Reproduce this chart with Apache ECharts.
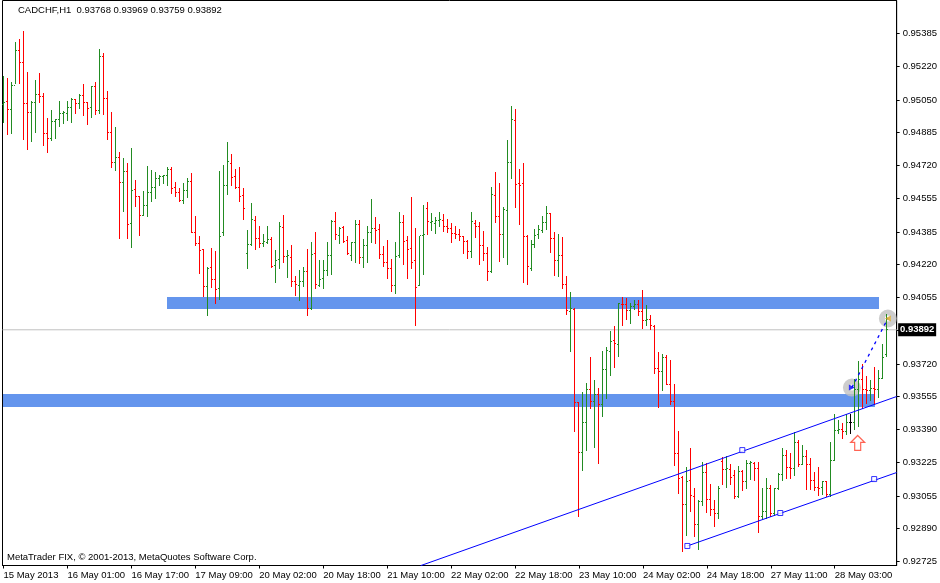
<!DOCTYPE html>
<html>
<head>
<meta charset="utf-8">
<style>html,body{margin:0;padding:0;background:#fff}#c{width:940px;height:583px}</style>
<script src="https://cdn.jsdelivr.net/npm/echarts@6/dist/echarts.min.js"></script>
</head>
<body>
<div id="c"></div>
<script>
// prices in points (1 point = 0.00001)
var opens = [95027,95042,95002,95123,95299,95239,95032,94987,95037,95078,95068,94881,94856,94941,94951,94982,94982,95012,95052,95032,95073,95037,95012,95118,94997,95269,95057,94886,94735,94760,94634,94690,94428,94599,94564,94468,94518,94584,94609,94654,94665,94670,94700,94609,94584,94543,94594,94639,94382,94327,94296,94110,94206,94145,94100,94382,94619,94730,94665,94609,94569,94276,94322,94443,94352,94327,94332,94347,94216,94246,94408,94261,94256,94135,94115,94135,94186,93999,94276,94115,94150,94191,94266,94438,94367,94408,94342,94266,94332,94423,94256,94317,94382,94403,94397,94271,94231,94201,94115,94266,94433,94342,94302,94241,94115,94367,94503,94433,94428,94443,94443,94413,94403,94377,94372,94362,94337,94286,94428,94413,94317,94276,94186,94569,94463,94372,94493,94735,94946,94629,94629,94362,94201,94322,94372,94392,94433,94478,94352,94241,94266,94120,93984,93994,93526,93274,93425,93591,93531,93566,93516,93692,93783,93838,93818,94020,94020,93989,94009,94020,93984,93939,93944,93909,93697,93682,93752,93617,93531,93269,93148,93012,93133,93053,92911,93027,93173,93037,92987,92967,93229,93188,93188,93158,93053,93178,93128,93219,93219,93193,92952,92977,93093,92967,93093,93163,93259,93198,93193,93324,93214,93254,93214,93133,93098,93098,93128,93063,93234,93385,93390,93380,93425,93425,93591,93642,93591,93586,93596,93591,93647,93768];
var highs = [95168,95158,95138,95339,95355,95395,95188,95042,95148,95183,95083,94956,94997,94951,95042,94992,95042,95057,95052,95078,95128,95037,95118,95138,95304,95284,95093,94987,94911,94785,94755,94730,94805,94644,94564,94589,94715,94695,94685,94670,94670,94710,94710,94634,94604,94629,94654,94680,94463,94362,94296,94206,94302,94286,94690,94720,94836,94775,94700,94710,94604,94392,94528,94463,94413,94372,94413,94357,94291,94433,94468,94291,94317,94160,94191,94206,94296,94332,94382,94241,94241,94332,94443,94483,94408,94413,94362,94332,94443,94443,94347,94413,94548,94458,94423,94312,94342,94246,94332,94483,94468,94362,94559,94403,94362,94518,94533,94478,94458,94483,94473,94448,94428,94413,94397,94362,94342,94483,94443,94433,94387,94307,94609,94685,94629,94508,94846,95017,95002,94700,94730,94367,94342,94397,94418,94463,94513,94478,94382,94372,94357,94160,94080,93999,93526,93576,93622,93752,93637,93596,93783,93803,93884,93909,94025,94055,94050,94025,94040,94040,94090,94015,93964,93914,93778,93768,93763,93737,93617,93380,93153,93198,93294,93093,93032,93224,93219,93113,93032,93103,93249,93254,93214,93183,93204,93183,93234,93229,93224,93224,93093,93143,93108,93093,93168,93294,93284,93269,93375,93334,93309,93284,93244,93173,93198,93128,93128,93324,93465,93435,93420,93465,93465,93642,93732,93717,93657,93637,93702,93687,93818,93969];
var lows = [94936,94876,94881,95133,95133,94851,94801,94841,94886,95037,94821,94785,94846,94856,94916,94931,94946,94936,94982,95007,94972,94926,94962,94977,94982,94977,94851,94710,94695,94352,94488,94352,94307,94513,94367,94468,94463,94538,94553,94619,94629,94619,94579,94564,94538,94528,94559,94382,94317,94176,94060,93964,94105,94025,94045,94367,94574,94619,94604,94538,94448,94201,94317,94296,94307,94312,94327,94206,94130,94201,94231,94155,94110,94065,94040,94110,93964,93994,94100,94110,94100,94166,94171,94347,94327,94332,94271,94241,94231,94226,94206,94231,94332,94327,94251,94211,94150,94085,94075,94256,94221,94150,94201,93914,94115,94171,94372,94392,94377,94413,94387,94382,94332,94352,94342,94276,94251,94256,94357,94221,94241,94140,94181,94433,94236,94256,94221,94654,94508,94423,94130,94120,94191,94307,94352,94382,94397,94281,94166,94160,94100,93969,93783,93380,92952,93183,93284,93496,93299,93219,93455,93546,93662,93702,93758,93914,93944,93924,93994,93964,93899,93914,93894,93672,93501,93586,93617,93516,93209,93068,92775,92856,92977,92851,92785,93007,92972,92957,92901,92941,93113,93098,93113,93042,93047,93083,93093,93138,93133,92871,92936,92941,92952,92957,93088,93133,93143,93143,93158,93204,93214,93088,93088,93083,93058,93063,93053,93053,93234,93370,93345,93365,93370,93390,93405,93496,93521,93536,93516,93551,93647,93759];
var closes = [95037,95002,95123,95299,95239,95032,94987,95037,95078,95068,94881,94856,94941,94951,94982,94985,95012,95052,95032,95073,95037,95007,95118,94997,95269,95057,94886,94735,94760,94634,94690,94423,94594,94564,94468,94518,94584,94609,94654,94665,94670,94700,94604,94584,94543,94594,94639,94382,94327,94291,94110,94201,94145,94095,94362,94619,94740,94660,94609,94564,94503,94322,94448,94352,94327,94337,94347,94211,94241,94413,94261,94264,94135,94120,94135,94186,93999,94271,94120,94145,94191,94266,94438,94372,94403,94337,94276,94332,94423,94256,94317,94382,94403,94392,94271,94231,94201,94115,94261,94433,94337,94296,94231,94105,94367,94372,94438,94438,94443,94446,94413,94403,94377,94372,94362,94337,94286,94438,94413,94317,94276,94186,94574,94463,94372,94498,94735,94951,94624,94619,94362,94211,94322,94367,94397,94433,94478,94352,94241,94266,94120,93989,93999,93526,93274,93425,93591,93531,93566,93516,93692,93788,93833,93823,94025,94017,93989,94009,94020,93984,93939,93944,93914,93697,93682,93752,93617,93531,93269,93143,93012,93128,93058,92911,93027,93173,93037,92987,92967,93093,93188,93191,93148,93053,93178,93128,93219,93222,93193,92952,92977,93093,92967,93093,93163,93259,93198,93193,93324,93214,93254,93214,93133,93098,93095,93128,93063,93234,93385,93390,93380,93425,93425,93591,93642,93591,93586,93596,93591,93647,93752,93892];

var tickBars = [0,16,32,48,64,80,96,112,128,144,160,176,192,208];
var tickLabels = ['15 May 2013','16 May 01:00','16 May 17:00','17 May 09:00','20 May 02:00','20 May 18:00','21 May 10:00','22 May 02:00','22 May 18:00','23 May 10:00','24 May 02:00','24 May 18:00','27 May 11:00','28 May 03:00'];
var priceTicks = [95385,95220,95050,94885,94720,94555,94385,94220,94055,93890,93720,93555,93390,93225,93055,92890,92725];
var priceLabelTicks = priceTicks.filter(function(v){return v!==93890;});
var lastPrice = 93892;

// zones: [bar from, bar to, price top, price bottom]
var zones = [[40.9,219.1,94057,93997],[-0.25,217.9,93569,93503]];
// trend lines: [bar, price]
var channelUpper = [[104.4,92704],[223.5,93556]];
var channelLower = [[171.125,92803],[223.5,93173]];
var anchors = [[171.125,92803],[184.875,93286],[194.375,92969],[217.875,93140]];
var tradeLine = [[212.3,93601],[221.3,93949]];
var entryMark = [[212.3,93601]];
var exitMark = [[221.3,93949]];
var arrowMark = [[213.75,93322]];

var GREEN='#228B22',RED='#FF0000',BLUE='#0000FF';
var barData = opens.map(function(o,i){return [i,o,highs[i],lows[i],closes[i]];});

function renderBar(params,api){
  var i=api.value(0),o=api.value(1),h=api.value(2),l=api.value(3),c=api.value(4);
  var x=Math.floor(api.coord([i,o])[0]);
  var yo=Math.floor(api.coord([i,o])[1]),yh=Math.floor(api.coord([i,h])[1]),
      yl=Math.floor(api.coord([i,l])[1]),yc=Math.floor(api.coord([i,c])[1]);
  var col=c>o?GREEN:(c<o?RED:'#000');
  var st={fill:col,stroke:null};
  return {type:'group',children:[
    {type:'rect',shape:{x:x,y:yh,width:1,height:Math.max(1,yl-yh+1)},style:st},
    {type:'rect',shape:{x:x-1,y:yo,width:1,height:1},style:st},
    {type:'rect',shape:{x:x+1,y:yc,width:1,height:1},style:st}
  ]};
}
function renderZone(params,api){
  var a=api.coord([api.value(0),api.value(2)]),b=api.coord([api.value(1),api.value(3)]);
  return {type:'rect',shape:{x:Math.round(a[0]),y:Math.round(a[1]),width:Math.round(b[0]-a[0]),height:Math.round(b[1]-a[1])},style:{fill:'#6495ED'}};
}
var FONT='"Liberation Sans",Arial,sans-serif';
var chart=echarts.init(document.getElementById('c'),null,{renderer:'canvas'});
chart.setOption({
  animation:false,
  backgroundColor:'#fff',
  title:[
    {text:'CADCHF,H1  0.93768 0.93969 0.93759 0.93892',left:18,top:5,padding:0,textStyle:{fontFamily:FONT,fontSize:9.5,fontWeight:'normal',color:'#000'}},
    {text:'MetaTrader FIX, © 2001-2013, MetaQuotes Software Corp.',left:7,top:552,padding:0,textStyle:{fontFamily:FONT,fontSize:9.5,fontWeight:'normal',color:'#000'}}
  ],
  grid:{left:2.5,right:42.5,top:0.5,bottom:17.5,show:true,borderColor:'#000',borderWidth:1,backgroundColor:'#fff'},
  xAxis:{type:'value',min:-0.25,max:223.5,splitLine:{show:false},
    axisLine:{show:true,onZero:false,lineStyle:{color:'#000'}},
    axisTick:{show:true,length:3,customValues:tickBars,lineStyle:{color:'#000'}},
    axisLabel:{show:true,customValues:tickBars,align:'left',margin:5,fontFamily:FONT,fontSize:9.5,color:'#000',
      formatter:function(v){return tickLabels[tickBars.indexOf(v)];}}},
  yAxis:{type:'value',position:'right',min:92704.6,max:95551,splitLine:{show:false},
    axisLine:{show:true,onZero:false,lineStyle:{color:'#000'}},
    axisTick:{show:true,length:3,customValues:priceTicks,lineStyle:{color:'#000'}},
    axisLabel:{show:true,customValues:priceLabelTicks,margin:6,fontFamily:FONT,fontSize:9.5,color:'#000',
      formatter:function(v){return (v/1e5).toFixed(5);}}},
  series:[
    {type:'custom',z:1,silent:true,renderItem:renderZone,data:zones,encode:{x:[0,1],y:[2,3]}},
    {type:'line',z:2,silent:true,symbol:'none',data:[[-0.25,lastPrice],[223.5,lastPrice]],lineStyle:{color:'#C0C0C0',width:1},
      markPoint:{silent:true,symbol:'rect',symbolSize:[38,13],
        itemStyle:{color:'#000'},
        label:{show:true,color:'#fff',fontFamily:FONT,fontSize:9.5,fontWeight:'bold',formatter:function(){return (lastPrice/1e5).toFixed(5);}},
        data:[{coord:[223.5,lastPrice],symbolOffset:[20.5,0]}]}},
    {type:'scatter',z:3,silent:true,symbol:'circle',symbolSize:12,
      itemStyle:{color:'#fff',borderColor:'#C0C0C0',borderWidth:6},data:entryMark.concat(exitMark)},
    {type:'custom',z:4,silent:true,renderItem:renderBar,data:barData,encode:{x:0,y:[1,2,3,4]}},
    {type:'line',z:5,silent:true,symbol:'none',data:channelUpper,lineStyle:{color:BLUE,width:1}},
    {type:'line',z:5,silent:true,symbol:'none',data:channelLower,lineStyle:{color:BLUE,width:1}},
    {type:'line',z:5,silent:true,symbol:'none',data:tradeLine,lineStyle:{color:BLUE,width:1.3,type:[3,4]}},
    {type:'scatter',z:6,silent:true,symbol:'rect',symbolSize:5,itemStyle:{color:'#fff',borderColor:BLUE,borderWidth:1},data:anchors},
    {type:'scatter',z:6,silent:true,symbol:'triangle',symbolRotate:-90,symbolSize:6,itemStyle:{color:BLUE},data:entryMark},
    {type:'scatter',z:6,silent:true,symbol:'triangle',symbolRotate:90,symbolSize:6,itemStyle:{color:'#DAA520'},data:exitMark},
    {type:'scatter',z:6,silent:true,symbol:'path://M7 0L14 7L10 7L10 15L4 15L4 7L0 7Z',symbolSize:[14,15],
      itemStyle:{color:'rgba(255,255,255,0)',borderColor:'#FF3C28',borderWidth:1.2},data:arrowMark}
  ]
});
</script>
</body>
</html>
